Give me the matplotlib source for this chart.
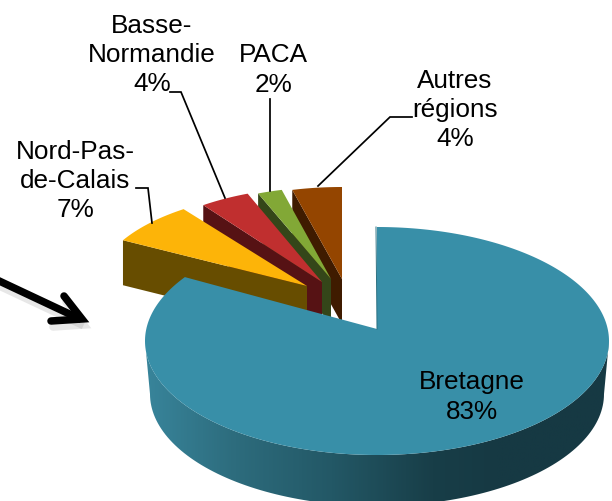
import numpy as np
import matplotlib
matplotlib.use("Agg")
import matplotlib.pyplot as plt
from matplotlib.colors import LinearSegmentedColormap
from matplotlib.patches import Polygon

plt.rcParams['font.family'] = ['Liberation Sans', 'DejaVu Sans']

# Daten
regions = ['Bretagne', 'Nord-Pas-de-Calais', 'Basse-Normandie', 'PACA', 'Autres régions']
shares = [83, 7, 4, 2, 4]
label_texts = ['Bretagne\n83%', 'Nord-Pas-\nde-Calais\n7%', 'Basse-\nNormandie\n4%', 'PACA\n2%', 'Autres\nrégions\n4%']

# Farben
top_colors = ['#388fa8', '#fdb408', '#c02f2f', '#82a836', '#944500']
side_colors = [None, '#674d00', '#561214', '#344619', '#3f1b00']

# Layout (Pixel)
big_center = (377, 342)
big_radii = (232, 114)
big_apex = (377, 330)
big_bottom_center = (377, 395)
big_bottom_radii = (227, 112)
small_apex = [None, (307, 287), (322, 283), (331, 280), (342, 280)]
small_radii = [None, (210, 95), (202, 95), (198, 92), (200, 92)]
small_depth = 45
label_pos = [(472, 397), (75, 181), (152, 55), (273, 70), (455, 110)]

leaders = [
    [(136, 189), (148, 189), (152, 224)],
    [(170, 93), (181, 93), (225, 199)],
    [(270, 100), (270, 192)],
    [(412, 118), (390, 118), (318, 187)],
]


def rim(theta, apex, center, radii):
    # Strahl vom Scheitelpunkt bis zur Ellipse (Winkel im Uhrzeigersinn ab 12 Uhr)
    rx, ry = radii
    dx, dy = rx * np.sin(theta), -ry * np.cos(theta)
    ox, oy = apex[0] - center[0], apex[1] - center[1]
    b = 2 * (ox * dx / rx**2 + oy * dy / ry**2)
    c = (ox / rx)**2 + (oy / ry)**2 - 1
    s = (-b + np.sqrt(b**2 - 4 * c)) / 2
    return np.column_stack([apex[0] + s * dx, apex[1] + s * dy])


def ellipse(theta, center, radii):
    return np.column_stack([center[0] + radii[0] * np.sin(theta), center[1] - radii[1] * np.cos(theta)])


fig = plt.figure(figsize=(6.12, 5.02), dpi=100)
ax = fig.add_axes([0, 0, 1, 1])

# Winkel aus den Anteilen
edges = np.radians(np.cumsum([0] + shares) * 360 / sum(shares))

# kleine Segmente, von rechts nach links
for i in range(len(shares) - 1, 0, -1):
    theta = np.linspace(edges[i], edges[i + 1], 40)
    apex = small_apex[i]
    pts = rim(theta, apex, apex, small_radii[i])
    start = pts[0]
    wall = [apex, start, (start[0], start[1] + small_depth), (apex[0], apex[1] + small_depth)]
    ax.add_patch(Polygon(wall, closed=True, fc=side_colors[i], ec='none'))
    ax.add_patch(Polygon(np.vstack([[apex], pts]), closed=True, fc=top_colors[i], ec='none'))

# Seitenwand Bretagne mit Verlauf
half = np.linspace(np.pi / 2, 3 * np.pi / 2, 120)
wall = np.vstack([ellipse(half, big_center, big_radii), ellipse(half[::-1], big_bottom_center, big_bottom_radii)])
wall_patch = Polygon(wall, closed=True, fc='none', ec='none')
ax.add_patch(wall_patch)
cmap = LinearSegmentedColormap.from_list('wall', [
    (0.0, '#38849a'), (0.19, '#2d6c7d'), (0.40, '#235866'), (0.62, '#183e48'), (0.76, '#163943'), (1.0, '#163943')])
img = ax.imshow(np.linspace(0, 1, 300).reshape(1, -1), cmap=cmap, extent=(146, 609, 520, 330), aspect='auto', zorder=1)
img.set_clip_path(wall_patch)

# Deckfläche Bretagne
theta = np.linspace(edges[0], edges[1], 300)
top = np.vstack([[big_apex], rim(theta, big_apex, big_center, big_radii)])
ax.add_patch(Polygon(top, closed=True, fc=top_colors[0], ec='none', zorder=2))
ax.plot([big_apex[0], big_apex[0] - 1], [big_apex[1], 228], color='#2a6f80', lw=0.7, zorder=3)

# Führungslinien
for line in leaders:
    xs, ys = zip(*line)
    ax.plot(xs, ys, color='black', lw=1.25, solid_joinstyle='miter', zorder=4)

# Pfeil
for off_x, off_y, col, alpha in [(2, 6, '#888888', 0.2), (0, 0, 'black', 1)]:
    ax.plot([-5 + off_x, 78 + off_x], [280 + off_y, 319 + off_y], color=col, alpha=alpha, lw=5.4, zorder=4)
    ax.plot([64 + off_x, 82 + off_x, 51 + off_x], [297 + off_y, 320 + off_y, 322 + off_y], color=col, alpha=alpha,
            lw=5.4, solid_joinstyle='miter', solid_capstyle='round', zorder=4)

# Beschriftung
for text, pos in zip(label_texts, label_pos):
    ax.text(pos[0], pos[1], text, ha='center', va='center', fontsize=18.8, color='black', linespacing=1.28, zorder=5)

ax.set_xlim(0, 612)
ax.set_ylim(502, 0)
ax.axis('off')
fig.savefig('out.png', dpi=100)
